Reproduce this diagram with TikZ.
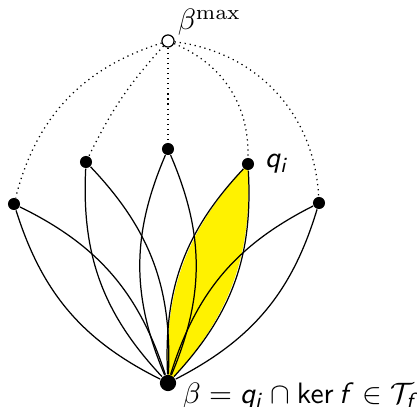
\documentclass[tikz,border=0pt]{standalone}
\usepackage{amsmath}
\usepackage{amssymb}
\usetikzlibrary{positioning,backgrounds}
\DeclareMathAlphabet{\mathsfsl}{OT1}{cmss}{m}{sl}

\begin{document}
\begin{tikzpicture}[
  x=0.339pt, y=0.339pt, line width=0.42pt,
  pt/.style={circle, fill, inner sep=0pt, minimum size=4.1pt},
  bigpt/.style={circle, fill, inner sep=0pt, minimum size=5.5pt},
  openpt/.style={circle, draw, fill=white, inner sep=0pt, minimum size=4.1pt},
  dots/.style={dash pattern=on 0.42pt off 1.3pt}
]
  \useasboundingbox (0,0) rectangle (417,407);
  % top and bottom
  \node[openpt] (top) at (168,366) {};
  \node[bigpt] (bot) at (168,24) {};
  % the points q
  \node[pt] (q1) at (14,203) {};
  \node[pt] (q2) at (86,245) {};
  \node[pt] (q3) at (168,258) {};
  \node[pt] (q4) at (248,243) {};
  \node[pt] (q5) at (319,204) {};
  % labels
  \node[anchor=south west, inner sep=0pt] (lmax) at ([xshift=1.5pt]top.north east) {$\beta^{\mathrm{max}}$};
  \node[right=0pt of q4] (lq) {$\mathsfsl{q}_{\mathsfsl{i}}$};
  \node[anchor=north west, inner sep=0pt] (lbot) at ([xshift=1.8pt,yshift=0.2pt]bot.east)
    {$\beta = \mathsfsl{q}_{\mathsfsl{i}} \cap \mathop{\mathsf{ker}}\nolimits \mathsfsl{f} \in \mathcal{T}_{\mathsfsl{f}}$};
  % yellow lens
  \begin{scope}[on background layer]
    \fill[yellow] (q4.center) to[bend right=23] (bot.center) to[bend right=23] (q4.center);
  \end{scope}
  % lenses down to beta
  \foreach \i in {1,...,5} {
    \draw (q\i) to[bend left=23] (bot);
    \draw (q\i) to[bend right=23] (bot);
  }
  % dotted up to beta max
  \draw[dots] (top) to[bend right=29] (q1);
  \draw[dots] (top) to[bend right=8] (q2);
  \draw[dots] (top) -- (q3);
  \draw[dots] (top) to[bend left=34] (q4);
  \draw[dots] (top) to[bend left=40] (q5);
\end{tikzpicture}
\end{document}
